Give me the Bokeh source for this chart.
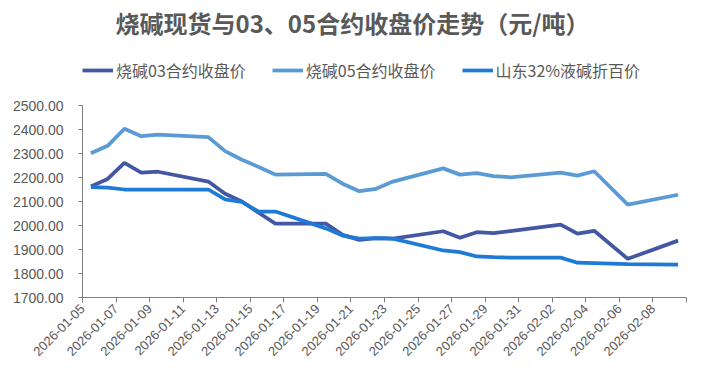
import datetime as dt
from bokeh.plotting import figure
from bokeh.models import (ColumnDataSource, Range1d, FixedTicker, NumeralTickFormatter,
                          DatetimeTickFormatter, Legend, LegendItem, Label)
from bokeh.embed import file_html
from bokeh.resources import INLINE
import math

title_text = "烧碱现货与03、05合约收盘价走势（元/吨）"
names = ["烧碱03合约收盘价", "烧碱05合约收盘价", "山东32%液碱折百价"]

dates = ["2026-01-05", "2026-01-06", "2026-01-07", "2026-01-08", "2026-01-09",
         "2026-01-12", "2026-01-13", "2026-01-14", "2026-01-15", "2026-01-16",
         "2026-01-19", "2026-01-20", "2026-01-21", "2026-01-22", "2026-01-23",
         "2026-01-26", "2026-01-27", "2026-01-28", "2026-01-29", "2026-01-30",
         "2026-02-02", "2026-02-03", "2026-02-04", "2026-02-06", "2026-02-09"]

sh03 = [2163, 2194, 2261, 2220, 2224,
        2183, 2132, 2100, 2053, 2008,
        2008, 1961, 1940, 1947, 1945,
        1976, 1949, 1972, 1968, 1977,
        2004, 1966, 1978, 1861, 1937]

sh05 = [2301, 2332, 2403, 2372, 2379,
        2368, 2310, 2274, 2244, 2212,
        2215, 2174, 2143, 2153, 2183,
        2238, 2212, 2218, 2206, 2201,
        2220, 2208, 2226, 2087, 2128]

sd32 = [2160, 2158, 2150, 2150, 2150,
        2150, 2109, 2098, 2058, 2058,
        1988, 1958, 1945, 1947, 1945,
        1896, 1889, 1871, 1868, 1866,
        1866, 1845, 1843, 1839, 1837]

tick_dates = ["2026-01-05", "2026-01-07", "2026-01-09", "2026-01-11", "2026-01-13",
              "2026-01-15", "2026-01-17", "2026-01-19", "2026-01-21", "2026-01-23",
              "2026-01-25", "2026-01-27", "2026-01-29", "2026-01-31", "2026-02-02",
              "2026-02-04", "2026-02-06", "2026-02-08", "2026-02-10"]
y_ticks = [1700, 1800, 1900, 2000, 2100, 2200, 2300, 2400, 2500]

colors = ["#4357A2", "#5B9BD5", "#1F7AD6"]

def ms(s, hours=0):
    d = dt.datetime.strptime(s, "%Y-%m-%d") + dt.timedelta(hours=hours)
    return (d - dt.datetime(1970, 1, 1)).total_seconds() * 1000.0

xs = [ms(d, 12) for d in dates]
src = ColumnDataSource(dict(x=xs, a=sh03, b=sh05, c=sd32))

# layout (pixels)
W, H = 700, 375
frame_left, frame_right = 82, 686
frame_top, axis_top, axis_bottom = 5, 105, 297
px_per_unit = (axis_bottom - axis_top) / (y_ticks[-1] - y_ticks[0])
y_end = y_ticks[-1] + (axis_top - frame_top) / px_per_unit

p = figure(width=W, height=H, output_backend="svg", toolbar_location=None,
           x_axis_type="datetime",
           x_range=Range1d(ms(tick_dates[0]), ms(tick_dates[-1])),
           y_range=Range1d(y_ticks[0], y_end),
           min_border_left=frame_left, min_border_right=W - frame_right,
           min_border_top=frame_top, min_border_bottom=H - axis_bottom)
p.outline_line_color = None
p.xgrid.visible = False
p.ygrid.visible = False
p.background_fill_color = "white"
p.border_fill_color = "white"

r1 = p.line("x", "a", source=src, line_color=colors[0], line_width=3.75)
r2 = p.line("x", "b", source=src, line_color=colors[1], line_width=3.75)
r3 = p.line("x", "c", source=src, line_color=colors[2], line_width=3.75)

tvals = [ms(d) for d in tick_dates]
p.xaxis.ticker = FixedTicker(ticks=tvals)
p.xaxis.formatter = DatetimeTickFormatter(days="%Y-%m-%d", months="%Y-%m-%d", years="%Y-%m-%d")
p.xaxis.major_label_overrides = {tvals[-1]: ""}
p.xaxis.major_label_orientation = math.pi / 4
p.xaxis.minor_tick_line_color = None
p.xaxis.major_tick_in = 0
p.xaxis.major_tick_out = 5
p.xaxis.major_label_standoff = 4
p.xaxis.major_label_text_font = "Liberation Sans"
p.xaxis.major_label_text_font_size = "13px"
p.xaxis.major_label_text_color = "#595959"
p.xaxis.axis_line_color = "#808080"
p.xaxis.major_tick_line_color = "#808080"

p.yaxis.ticker = FixedTicker(ticks=y_ticks)
p.yaxis.bounds = (y_ticks[0], y_ticks[-1])
p.yaxis.formatter = NumeralTickFormatter(format="0.00")
p.yaxis.minor_tick_line_color = None
p.yaxis.major_tick_in = 0
p.yaxis.major_tick_out = 4
p.yaxis.major_label_standoff = 15
p.yaxis.major_label_text_font = "Liberation Sans"
p.yaxis.major_label_text_font_size = "14px"
p.yaxis.major_label_text_color = "#595959"
p.yaxis.axis_line_color = "#808080"
p.yaxis.major_tick_line_color = "#808080"

legend = Legend(items=[LegendItem(label=names[0], renderers=[r1]),
                       LegendItem(label=names[1], renderers=[r2]),
                       LegendItem(label=names[2], renderers=[r3])],
                orientation="horizontal", location=(0, axis_bottom - 82),
                padding=0, margin=0, spacing=26, label_standoff=3,
                glyph_width=31, glyph_height=18,
                border_line_color=None, background_fill_alpha=0)
legend.label_text_font = "Noto Sans CJK SC"
legend.label_text_font_size = "16px"
legend.label_text_color = "#595959"
p.add_layout(legend, "center")

title = Label(x=352 - frame_left, y=axis_bottom - 22, x_units="screen", y_units="screen",
              text=title_text, text_align="center", text_baseline="middle",
              text_font="Noto Sans CJK SC", text_font_size="24px",
              text_font_style="bold", text_color="#595959")
p.add_layout(title)

open("out.html", "w").write(file_html(p, INLINE))
